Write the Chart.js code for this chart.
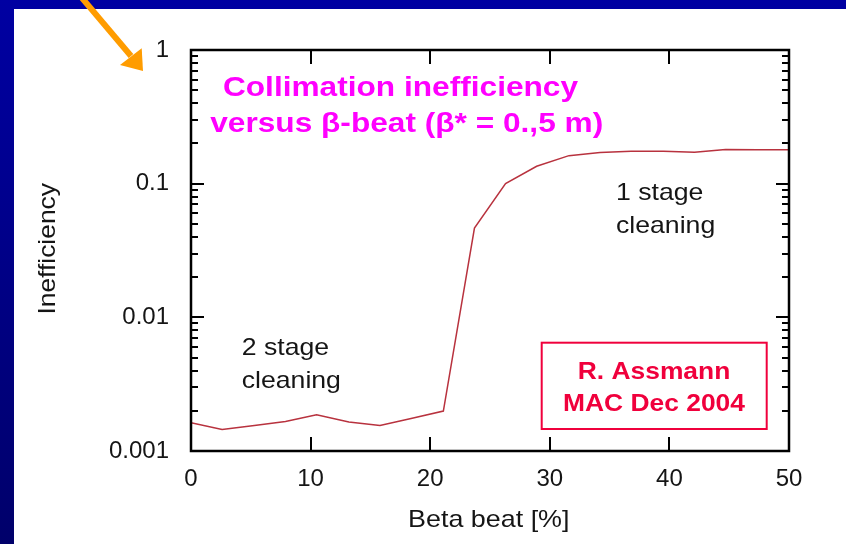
<!DOCTYPE html>
<html>
<head>
<meta charset="utf-8">
<script src="https://cdn.jsdelivr.net/npm/chart.js@4.4.0/dist/chart.umd.min.js"></script>
<style>
  html, body { margin: 0; padding: 0; }
  body {
    width: 846px; height: 544px; overflow: hidden; position: relative;
    background: linear-gradient(#0000a2, #00006a);
  }
  #sheet { position: absolute; left: 14px; top: 9px; right: 0; bottom: 0; background: #fff; }
  #wrap { position: absolute; left: 0; top: 0; width: 846px; height: 544px; }
</style>
</head>
<body>
<div id="sheet"></div>
<div id="wrap"><canvas id="beat_chart"></canvas></div>
<script>
// beta beat in %, inefficiency per point
var beat = [0, 2.6, 5.3, 7.9, 10.5, 13.2, 15.8, 18.4, 21.1, 23.7, 26.3, 28.9, 31.6, 34.2, 36.8, 39.5, 42.1, 44.7, 47.4, 50]
var inefficiency = [0.00163, 0.00145, 0.00155, 0.00166, 0.00187, 0.00165, 0.00155, 0.00175, 0.00199, 0.0465,
                    0.100, 0.135, 0.162, 0.171, 0.175, 0.175, 0.172, 0.180, 0.179, 0.179]
var yTicks = [0.001, 0.01, 0.1, 1]
var yTickLabels = ['0.001', '0.01', '0.1', '1']
var xTicks = [0, 10, 20, 30, 40, 50]

var ink = '#151515'
var tickFont = {family: '"Liberation Sans", Arial, sans-serif', size: 24}

function stretchText(ctx, str, x, y, font, color, align, sx) {
  ctx.save()
  ctx.font = font
  ctx.fillStyle = color
  ctx.textAlign = align
  ctx.textBaseline = 'alphabetic'
  ctx.translate(x, y)
  ctx.scale(sx, 1)
  ctx.fillText(str, 0, 0)
  ctx.restore()
}

// box around the plot with inward ticks on all four sides
var frame = {
  id: 'frame',
  afterDatasetsDraw(chart) {
    var ctx = chart.ctx, a = chart.chartArea
    var xs = chart.scales.x, ys = chart.scales.y
    ctx.save()
    ctx.strokeStyle = '#000'
    ctx.lineWidth = 2
    ctx.beginPath()
    for (var v of xTicks.slice(1, -1)) {
      var px = Math.round(xs.getPixelForValue(v))
      ctx.moveTo(px, a.bottom); ctx.lineTo(px, a.bottom - 14)
      ctx.moveTo(px, a.top); ctx.lineTo(px, a.top + 14)
    }
    for (var d of yTicks.slice(0, -1)) {
      for (var m = 1; m <= 9; m++) {
        var py = Math.round(ys.getPixelForValue(d * m))
        var len = m == 1 ? 13 : 7
        ctx.moveTo(a.left, py); ctx.lineTo(a.left + len, py)
        ctx.moveTo(a.right, py); ctx.lineTo(a.right - len, py)
      }
    }
    ctx.stroke()
    ctx.lineWidth = 2.5
    ctx.strokeRect(a.left, a.top, a.right - a.left, a.bottom - a.top)
    ctx.restore()
  }
}

var notes = {
  id: 'notes',
  afterDraw(chart) {
    var ctx = chart.ctx
    var bold28 = 'bold 28px "Liberation Sans", Arial, sans-serif'
    var bold24 = 'bold 24px "Liberation Sans", Arial, sans-serif'
    var reg24 = '24px "Liberation Sans", Arial, sans-serif'

    stretchText(ctx, 'Collimation inefficiency', 400.5, 96, bold28, '#ff00ff', 'center', 1.13)
    stretchText(ctx, 'versus \u03b2-beat (\u03b2* = 0.,5 m)', 406.7, 131.7, bold28, '#ff00ff', 'center', 1.13)

    stretchText(ctx, '2 stage', 241.7, 355, reg24, ink, 'left', 1.11)
    stretchText(ctx, 'cleaning', 241.7, 387.5, reg24, ink, 'left', 1.11)
    stretchText(ctx, '1 stage', 616, 200, reg24, ink, 'left', 1.11)
    stretchText(ctx, 'cleaning', 616, 233.3, reg24, ink, 'left', 1.11)

    ctx.save()
    ctx.strokeStyle = '#f0003c'
    ctx.lineWidth = 2
    ctx.strokeRect(541.7, 342.7, 225, 86.3)
    ctx.restore()
    stretchText(ctx, 'R. Assmann', 654, 379.3, bold24, '#f0003c', 'center', 1.1)
    stretchText(ctx, 'MAC Dec 2004', 654, 410.7, bold24, '#f0003c', 'center', 1.1)

    // axis titles
    stretchText(ctx, 'Beta beat [%]', 488.8, 526.7, reg24, ink, 'center', 1.12)
    ctx.save()
    ctx.translate(55, 248.8)
    ctx.rotate(-Math.PI / 2)
    stretchText(ctx, 'Inefficiency', 0, 0, reg24, ink, 'center', 1.1)
    ctx.restore()

    // orange pointer in the corner
    ctx.save()
    ctx.strokeStyle = '#ff9c00'
    ctx.fillStyle = '#ff9c00'
    ctx.lineWidth = 6
    ctx.beginPath()
    ctx.moveTo(82, -2)
    ctx.lineTo(131, 56)
    ctx.stroke()
    ctx.beginPath()
    ctx.moveTo(120, 65)
    ctx.lineTo(143, 71)
    ctx.lineTo(141.7, 48.3)
    ctx.closePath()
    ctx.fill()
    ctx.restore()
  }
}

var config = {
  type: 'scatter',
  data: {
    datasets: [{
      data: beat.map((b, i) => ({x: b, y: inefficiency[i]})),
      showLine: true,
      borderColor: '#b8323e',
      borderWidth: 1.5,
      pointRadius: 0,
      tension: 0
    }]
  },
  options: {
    responsive: false,
    animation: false,
    layout: {padding: {left: 0, top: 50, right: 57, bottom: 0}},
    plugins: {legend: {display: false}, tooltip: {enabled: false}},
    scales: {
      x: {
        type: 'linear', min: 0, max: 50,
        grid: {display: false, drawTicks: false},
        border: {display: false},
        afterBuildTicks: s => { s.ticks = xTicks.map(v => ({value: v})) },
        afterFit: s => { s.height = 93 },
        ticks: {font: tickFont, color: ink, padding: 14, maxRotation: 0}
      },
      y: {
        type: 'logarithmic', min: 0.001, max: 1,
        grid: {display: false, drawTicks: false},
        border: {display: false},
        afterBuildTicks: s => { s.ticks = yTicks.map(v => ({value: v})) },
        afterFit: s => { s.width = 191 },
        ticks: {
          font: tickFont, color: ink, padding: 22,
          callback: (v) => yTickLabels[yTicks.indexOf(v)]
        }
      }
    }
  },
  plugins: [frame, notes]
}

var canvas = document.getElementById('beat_chart')
canvas.width = 846
canvas.height = 544
new Chart(canvas, config)
</script>
</body>
</html>
